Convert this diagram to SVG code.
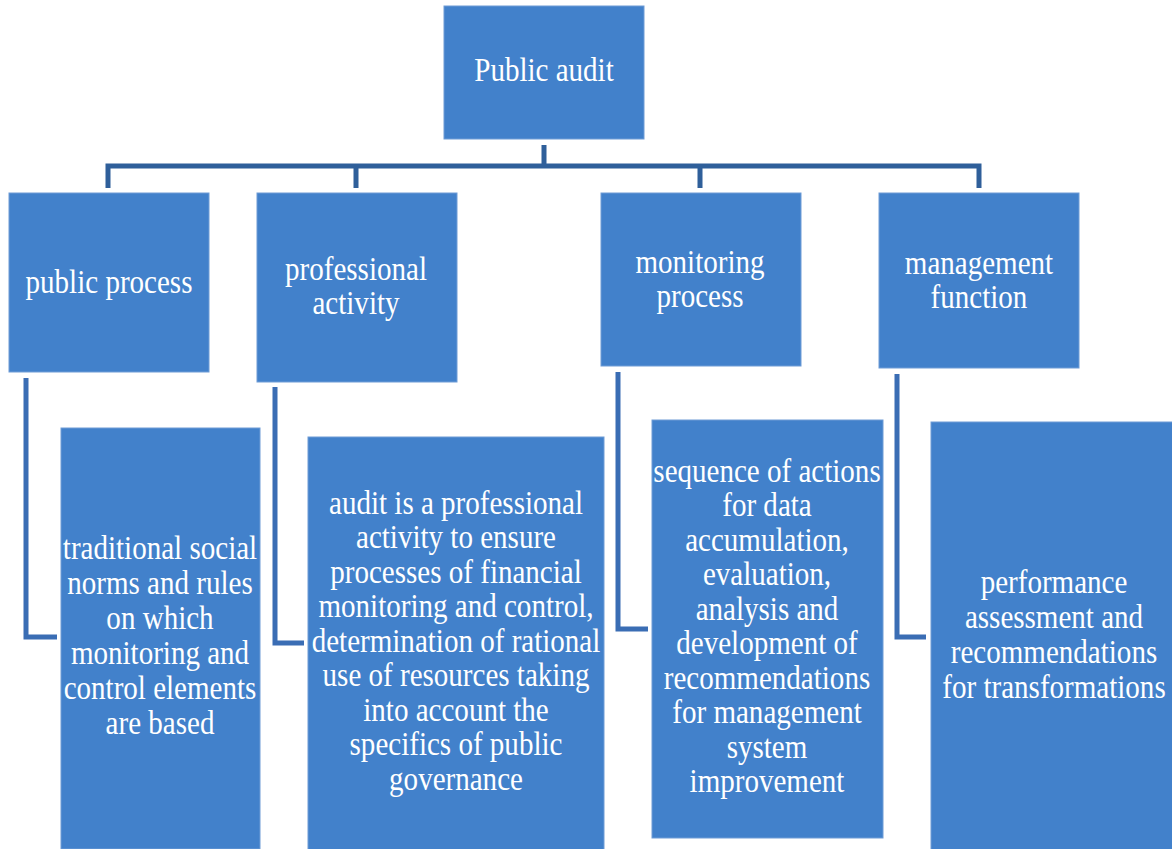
<svg xmlns="http://www.w3.org/2000/svg" width="1172" height="849" viewBox="0 0 1172 849">
<style>
.box{fill:#4281CB;stroke:#6E9CD6;stroke-width:1}
.t{font-family:"Liberation Serif","Times New Roman",serif;font-size:33px;fill:#FFFFFF;text-anchor:middle}
.bus{fill:none;stroke:#2F5F9A;stroke-width:5;stroke-linejoin:miter}
.elb{fill:none;stroke:#3A6DB4;stroke-width:5;stroke-linejoin:miter}
</style>
<rect width="1172" height="849" fill="#FFFFFF"/>
<g id="connectors">
<path class="bus" d="M544,145 V166 M108,188 V166 H979 V188 M356,166 V188 M700,166 V188"/>
<path class="elb" d="M26,378 V637 H57"/>
<path class="elb" d="M275,387 V643 H304"/>
<path class="elb" d="M618,372 V629 H648"/>
<path class="elb" d="M897,374 V637 H926"/>
</g>
<g id="public-audit">
<rect class="box" x="444" y="6" width="200" height="133"/>
<text class="t" transform="translate(544,0) scale(0.88,1)"><tspan x="0" y="81">Public audit</tspan></text>
</g>
<g id="public-process">
<rect class="box" x="9" y="193" width="200" height="179"/>
<text class="t" transform="translate(109,0) scale(0.88,1)"><tspan x="0" y="293">public process</tspan></text>
</g>
<g id="professional-activity">
<rect class="box" x="257" y="193" width="200" height="189"/>
<text class="t" transform="translate(356,0) scale(0.88,1)"><tspan x="0" y="280">professional</tspan><tspan x="0" y="314">activity</tspan></text>
</g>
<g id="monitoring-process">
<rect class="box" x="601" y="193" width="200" height="173"/>
<text class="t" transform="translate(700,0) scale(0.88,1)"><tspan x="0" y="273">monitoring</tspan><tspan x="0" y="307">process</tspan></text>
</g>
<g id="management-function">
<rect class="box" x="879" y="193" width="200" height="175"/>
<text class="t" transform="translate(979,0) scale(0.88,1)"><tspan x="0" y="274">management</tspan><tspan x="0" y="308">function</tspan></text>
</g>
<g id="traditional-norms">
<rect class="box" x="61" y="428" width="199" height="421"/>
<text class="t" transform="translate(160,0) scale(0.88,1)"><tspan x="0" y="559">traditional social</tspan><tspan x="0" y="594">norms and rules</tspan><tspan x="0" y="629">on which</tspan><tspan x="0" y="664">monitoring and</tspan><tspan x="0" y="699">control elements</tspan><tspan x="0" y="734">are based</tspan></text>
</g>
<g id="audit-activity">
<rect class="box" x="308" y="437" width="296" height="413"/>
<text class="t" transform="translate(456,0) scale(0.88,1)"><tspan x="0" y="514">audit is a professional</tspan><tspan x="0" y="548.5">activity to ensure</tspan><tspan x="0" y="583">processes of financial</tspan><tspan x="0" y="617.5">monitoring and control,</tspan><tspan x="0" y="652">determination of rational</tspan><tspan x="0" y="686.5">use of resources taking</tspan><tspan x="0" y="721">into account the</tspan><tspan x="0" y="755.5">specifics of public</tspan><tspan x="0" y="790">governance</tspan></text>
</g>
<g id="sequence-actions">
<rect class="box" x="652" y="420" width="231" height="418"/>
<text class="t" transform="translate(767,0) scale(0.88,1)"><tspan x="0" y="482">sequence of actions</tspan><tspan x="0" y="516.5">for data</tspan><tspan x="0" y="551">accumulation,</tspan><tspan x="0" y="585.5">evaluation,</tspan><tspan x="0" y="620">analysis and</tspan><tspan x="0" y="654.5">development of</tspan><tspan x="0" y="689">recommendations</tspan><tspan x="0" y="723.5">for management</tspan><tspan x="0" y="758">system</tspan><tspan x="0" y="792.5">improvement</tspan></text>
</g>
<g id="performance-assessment">
<rect class="box" x="931" y="422" width="242" height="428"/>
<text class="t" transform="translate(1054,0) scale(0.88,1)"><tspan x="0" y="593">performance</tspan><tspan x="0" y="628">assessment and</tspan><tspan x="0" y="663">recommendations</tspan><tspan x="0" y="698">for transformations</tspan></text>
</g>
</svg>
